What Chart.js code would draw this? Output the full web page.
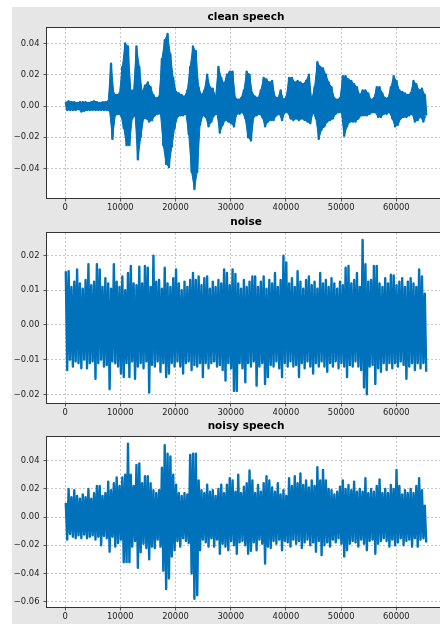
<!DOCTYPE html>
<html>
<head>
<meta charset="utf-8">
<script src="https://cdn.jsdelivr.net/npm/chart.js@4.4.1/dist/chart.umd.min.js"></script>
<style>
  html, body { margin: 0; padding: 0; background: #fff; overflow: hidden; width: 440px; height: 624px; }
  #fig { position: absolute; left: 12px; top: 7px; width: 428px; height: 617px; background: #e6e6e6; }
  canvas { position: absolute; left: 0; }
</style>
</head>
<body>
<div id="fig"></div>
<canvas id="clean" width="460" height="208" style="top:7px"></canvas>
<canvas id="noise" width="460" height="208" style="top:212px"></canvas>
<canvas id="noisy" width="460" height="208" style="top:416px"></canvas>
<script>
// each waveform is kept as its min/max envelope per block of 512 samples
const blockSize = 512;

const cleanSpeechMax = [
  0.0025, 0.003, 0.0025, 0.0025, 0.002, 0.0025, 0.0025, 0.0025, 0.002, 0.0025, 0.003, 0.0025, 0.002, 0.0025, 0.0025, 0.003,
  0.027, 0.008, 0.007, 0.008, 0.025, 0.040, 0.038, 0.010, 0.010, 0.038, 0.025, 0.009, 0.013, 0.015, 0.012, 0.007,
  0.005, 0.006, 0.030, 0.042, 0.046, 0.033, 0.018, 0.009, 0.008, 0.007, 0.006, 0.010, 0.025, 0.038, 0.035, 0.012,
  0.007, 0.010, 0.020, 0.012, 0.011, 0.006, 0.025, 0.018, 0.014, 0.020, 0.022, 0.022, 0.005, 0.004, 0.005, 0.010,
  0.022, 0.020, 0.008, 0.006, 0.005, 0.010, 0.018, 0.017, 0.015, 0.016, 0.006, 0.005, 0.010, 0.004, 0.006, 0.018,
  0.018, 0.015, 0.016, 0.015, 0.014, 0.016, 0.020, 0.004, 0.012, 0.028, 0.025, 0.024, 0.020, 0.015, 0.012, 0.005,
  0.004, 0.005, 0.019, 0.019, 0.017, 0.016, 0.014, 0.012, 0.007, 0.010, 0.010, 0.008, 0.004, 0.005, 0.012, 0.012,
  0.008, 0.005, 0.005, 0.012, 0.019, 0.016, 0.010, 0.009, 0.008, 0.007, 0.008, 0.016, 0.014, 0.010, 0.011, 0.007
];
const cleanSpeechMin = [
  -0.0025, -0.0025, -0.0025, -0.0025, -0.002, -0.0035, -0.003, -0.0025, -0.0025, -0.0025, -0.0025, -0.0025, -0.0025, -0.0025, -0.0025, -0.003,
  -0.021, -0.006, -0.005, -0.006, -0.014, -0.025, -0.025, -0.008, -0.006, -0.034, -0.020, -0.008, -0.008, -0.010, -0.009, -0.006,
  -0.005, -0.005, -0.025, -0.037, -0.039, -0.026, -0.014, -0.007, -0.006, -0.006, -0.005, -0.018, -0.042, -0.053, -0.042, -0.012,
  -0.006, -0.007, -0.013, -0.010, -0.006, -0.005, -0.017, -0.012, -0.009, -0.010, -0.011, -0.013, -0.005, -0.005, -0.004, -0.008,
  -0.020, -0.022, -0.007, -0.006, -0.005, -0.007, -0.013, -0.010, -0.009, -0.009, -0.006, -0.005, -0.009, -0.004, -0.004, -0.008,
  -0.009, -0.008, -0.009, -0.008, -0.009, -0.010, -0.011, -0.004, -0.008, -0.021, -0.015, -0.013, -0.010, -0.009, -0.008, -0.005,
  -0.004, -0.004, -0.019, -0.013, -0.010, -0.010, -0.010, -0.008, -0.006, -0.006, -0.006, -0.005, -0.004, -0.004, -0.007, -0.007,
  -0.005, -0.005, -0.004, -0.008, -0.013, -0.012, -0.008, -0.007, -0.007, -0.006, -0.005, -0.010, -0.009, -0.007, -0.010, -0.006
];

const noiseMax = [
  0.0155, 0.0155, 0.011, 0.0125, 0.016, 0.012, 0.0105, 0.013, 0.0175, 0.0115, 0.0125, 0.0175, 0.016, 0.011, 0.0135, 0.012,
  0.0105, 0.0175, 0.0125, 0.011, 0.014, 0.010, 0.015, 0.017, 0.012, 0.0115, 0.0168, 0.012, 0.017, 0.0165, 0.011, 0.020,
  0.0125, 0.013, 0.0105, 0.0165, 0.012, 0.011, 0.0135, 0.016, 0.012, 0.010, 0.0125, 0.011, 0.013, 0.015, 0.013, 0.014,
  0.0115, 0.0135, 0.014, 0.0105, 0.0125, 0.011, 0.013, 0.012, 0.016, 0.015, 0.0115, 0.016, 0.0147, 0.012, 0.0105, 0.013,
  0.011, 0.0125, 0.014, 0.014, 0.011, 0.0125, 0.014, 0.0105, 0.013, 0.012, 0.015, 0.011, 0.013, 0.020, 0.018, 0.012,
  0.0135, 0.011, 0.0155, 0.0125, 0.0105, 0.013, 0.014, 0.0115, 0.0125, 0.0105, 0.015, 0.012, 0.013, 0.011, 0.0135, 0.012,
  0.0105, 0.0125, 0.0115, 0.0165, 0.017, 0.012, 0.013, 0.015, 0.011, 0.0245, 0.0175, 0.0125, 0.013, 0.017, 0.017, 0.012,
  0.011, 0.0135, 0.012, 0.0145, 0.0143, 0.0115, 0.0125, 0.0135, 0.011, 0.0125, 0.0135, 0.012, 0.011, 0.016, 0.014, 0.009
];
const noiseMin = [
  -0.013, -0.010, -0.012, -0.0105, -0.011, -0.0125, -0.010, -0.0125, -0.011, -0.0105, -0.0155, -0.011, -0.010, -0.012, -0.0115, -0.0185,
  -0.0105, -0.011, -0.012, -0.014, -0.015, -0.011, -0.015, -0.0105, -0.0155, -0.012, -0.011, -0.0125, -0.0105, -0.0195, -0.0115, -0.012,
  -0.0105, -0.0135, -0.011, -0.015, -0.014, -0.011, -0.012, -0.0105, -0.012, -0.014, -0.011, -0.0105, -0.013, -0.0115, -0.012, -0.011,
  -0.015, -0.011, -0.0125, -0.011, -0.0105, -0.012, -0.0115, -0.013, -0.016, -0.011, -0.0125, -0.019, -0.019, -0.011, -0.0125, -0.0165,
  -0.011, -0.012, -0.0105, -0.0175, -0.012, -0.011, -0.017, -0.015, -0.0115, -0.012, -0.0105, -0.0125, -0.015, -0.011, -0.012, -0.0105,
  -0.012, -0.0115, -0.015, -0.011, -0.0125, -0.0105, -0.012, -0.014, -0.011, -0.012, -0.0105, -0.012, -0.0135, -0.011, -0.012, -0.0105,
  -0.0125, -0.011, -0.012, -0.015, -0.0115, -0.012, -0.0105, -0.012, -0.013, -0.018, -0.020, -0.012, -0.0115, -0.017, -0.0125, -0.0135,
  -0.011, -0.013, -0.011, -0.0125, -0.011, -0.012, -0.0105, -0.0115, -0.0155, -0.012, -0.011, -0.013, -0.011, -0.0125, -0.011, -0.0135
];

const noisySpeechMax = [
  0.010, 0.020, 0.014, 0.019, 0.015, 0.013, 0.016, 0.014, 0.020, 0.013, 0.017, 0.022, 0.022, 0.015, 0.017, 0.025,
  0.019, 0.024, 0.028, 0.022, 0.028, 0.030, 0.052, 0.030, 0.022, 0.037, 0.038, 0.024, 0.029, 0.029, 0.024, 0.019,
  0.017, 0.019, 0.035, 0.051, 0.045, 0.043, 0.030, 0.023, 0.017, 0.015, 0.017, 0.016, 0.044, 0.045, 0.045, 0.026,
  0.019, 0.017, 0.023, 0.018, 0.019, 0.015, 0.020, 0.023, 0.017, 0.023, 0.0275, 0.026, 0.018, 0.030, 0.017, 0.0215,
  0.024, 0.033, 0.026, 0.017, 0.0227, 0.018, 0.024, 0.029, 0.026, 0.021, 0.018, 0.024, 0.016, 0.019, 0.015, 0.0275,
  0.022, 0.029, 0.024, 0.031, 0.0227, 0.026, 0.021, 0.026, 0.022, 0.0353, 0.026, 0.0334, 0.026, 0.020, 0.019, 0.016,
  0.018, 0.0215, 0.026, 0.020, 0.0227, 0.019, 0.025, 0.018, 0.020, 0.018, 0.0275, 0.017, 0.020, 0.018, 0.022, 0.0267,
  0.017, 0.020, 0.017, 0.0227, 0.020, 0.0334, 0.022, 0.016, 0.019, 0.017, 0.020, 0.017, 0.022, 0.0275, 0.019, 0.008
];
const noisySpeechMin = [
  -0.016, -0.012, -0.014, -0.015, -0.013, -0.015, -0.0125, -0.015, -0.014, -0.013, -0.016, -0.014, -0.020, -0.0135, -0.015, -0.0246,
  -0.014, -0.021, -0.0185, -0.016, -0.032, -0.032, -0.032, -0.021, -0.017, -0.036, -0.025, -0.019, -0.022, -0.030, -0.021, -0.022,
  -0.016, -0.021, -0.038, -0.051, -0.0435, -0.028, -0.0235, -0.017, -0.021, -0.015, -0.017, -0.0185, -0.040, -0.058, -0.0554, -0.0235,
  -0.016, -0.018, -0.021, -0.015, -0.021, -0.016, -0.026, -0.019, -0.021, -0.0235, -0.017, -0.020, -0.026, -0.018, -0.017, -0.020,
  -0.026, -0.024, -0.018, -0.0235, -0.016, -0.019, -0.033, -0.021, -0.022, -0.017, -0.019, -0.016, -0.0235, -0.017, -0.018, -0.021,
  -0.016, -0.019, -0.017, -0.022, -0.018, -0.016, -0.020, -0.018, -0.0246, -0.017, -0.027, -0.020, -0.018, -0.021, -0.016, -0.018,
  -0.015, -0.019, -0.028, -0.0235, -0.019, -0.017, -0.018, -0.021, -0.016, -0.019, -0.0235, -0.017, -0.016, -0.026, -0.019, -0.017,
  -0.015, -0.017, -0.021, -0.016, -0.020, -0.018, -0.015, -0.020, -0.017, -0.016, -0.021, -0.015, -0.021, -0.016, -0.015, -0.018
];

const xTicks = [0, 10000, 20000, 30000, 40000, 50000, 60000];
const cleanYTicks = [-0.04, -0.02, 0.00, 0.02, 0.04];
const noiseYTicks = [-0.02, -0.01, 0.00, 0.01, 0.02];
const noisyYTicks = [-0.06, -0.04, -0.02, 0.00, 0.02, 0.04];

const FONT = 'DejaVu Sans';
const BLUE = '#0072bb';

// zigzag max -> min inside every block, like a dense waveform
function envelope(maxs, mins) {
  const pts = [];
  for (let i = 0; i < maxs.length; i++) {
    pts.push({ x: i * blockSize + blockSize / 4, y: maxs[i] });
    pts.push({ x: i * blockSize + blockSize * 3 / 4, y: mins[i] });
  }
  return pts;
}
function edge(vals, offset) {
  return vals.map((v, i) => ({ x: i * blockSize + offset, y: v }));
}

const axesFrame = {
  id: 'axesFrame',
  beforeDraw(chart) {
    const a = chart.chartArea, ctx = chart.ctx;
    ctx.save();
    ctx.fillStyle = '#fff';
    ctx.fillRect(a.left, a.top, a.right - a.left, a.bottom - a.top);
    ctx.restore();
  },
  afterDraw(chart) {
    const a = chart.chartArea, ctx = chart.ctx;
    ctx.save();
    ctx.strokeStyle = '#333';
    ctx.lineWidth = 1;
    ctx.strokeRect(Math.round(a.left) - 0.5, Math.round(a.top) - 0.5,
      Math.round(a.right - a.left) + 1, Math.round(a.bottom - a.top) + 1);
    ctx.restore();
  }
};

function makeChart(id, title, maxs, mins, yTicks, yMin, yMax, solidBody) {
  const tickFont = { family: FONT, size: 8.4 };
  const grid = {
    color: '#b8b8b8', lineWidth: 0.8,
    tickLength: 3.5, tickColor: '#333', tickWidth: 0.8, tickBorderDash: []
  };
  const datasets = [{
    data: envelope(maxs, mins),
    borderColor: BLUE,
    borderWidth: 2.4,
    borderJoinStyle: 'round',
    pointRadius: 0,
    tension: 0,
    fill: false,
    order: 0
  }];
  if (solidBody) {
    datasets.push({
      data: edge(maxs, blockSize / 4),
      borderColor: BLUE, borderWidth: 1, backgroundColor: BLUE,
      pointRadius: 0, tension: 0, fill: '+1', order: 1
    }, {
      data: edge(mins, blockSize * 3 / 4),
      borderColor: BLUE, borderWidth: 1,
      pointRadius: 0, tension: 0, fill: false, order: 2
    });
  }
  new Chart(document.getElementById(id), {
    type: 'line',
    data: { datasets },
    options: {
      responsive: false,
      animation: false,
      events: [],
      layout: { padding: { left: 0, right: 15, top: 0, bottom: 0 } },
      plugins: {
        legend: { display: false },
        tooltip: { enabled: false },
        title: {
          display: true, text: title, fullSize: false, color: '#000',
          font: { family: FONT, size: 10.5, weight: 'bold' },
          padding: { top: 3.5, bottom: 5 }
        }
      },
      scales: {
        x: {
          type: 'linear', min: -3277, max: 68813,
          afterBuildTicks: s => { s.ticks = xTicks.map(v => ({ value: v })); },
          afterFit: s => { s.height = 17; },
          grid: grid,
          border: { display: false, dash: [2, 2] },
          ticks: {
            font: tickFont, color: '#222', padding: 1.5,
            maxRotation: 0, autoSkip: false,
            callback: v => String(v)
          }
        },
        y: {
          type: 'linear', min: yMin, max: yMax,
          afterBuildTicks: s => { s.ticks = yTicks.map(v => ({ value: v })); },
          afterFit: s => { s.width = 47; },
          grid: grid,
          border: { display: false, dash: [2, 2] },
          ticks: {
            font: tickFont, color: '#222', padding: 4,
            callback: v => v.toFixed(2).replace('-', '\u2212')
          }
        }
      }
    },
    plugins: [axesFrame]
  });
}

makeChart('clean', 'clean speech', cleanSpeechMax, cleanSpeechMin, cleanYTicks, -0.0588, 0.0498, true);
makeChart('noise', 'noise', noiseMax, noiseMin, noiseYTicks, -0.0225, 0.0265, false);
makeChart('noisy', 'noisy speech', noisySpeechMax, noisySpeechMin, noisyYTicks, -0.0638, 0.0567, false);
</script>
</body>
</html>
